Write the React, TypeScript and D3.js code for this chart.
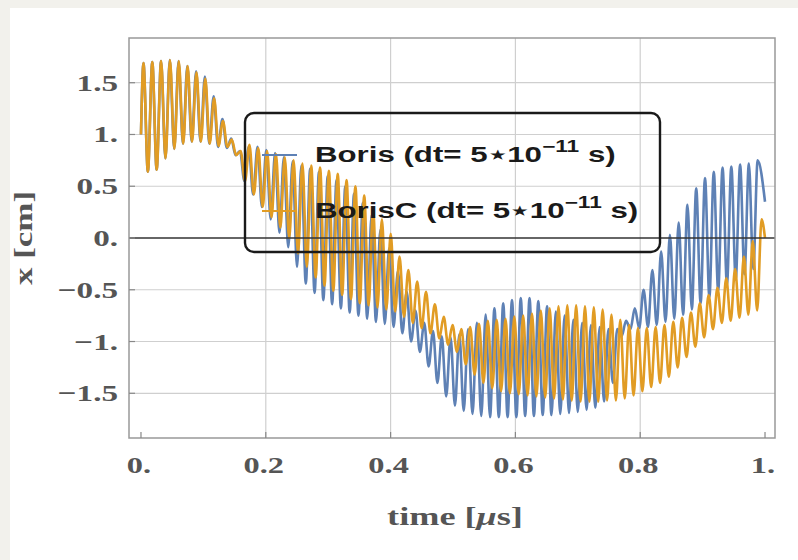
/* eslint-disable */
import React, { useRef, useEffect } from "react";
import * as d3 from "d3";

// ---- 1. Data ----//
// one value per oscillation: upper turning points (peaks) and lower ones (troughs), x in cm

const borisPeaks = [
  1.69, 1.7, 1.71, 1.72, 1.71, 1.66, 1.61, 1.56, 1.37, 1.15,
  0.96, 0.84, 0.88, 0.88, 0.85, 0.82, 0.78, 0.74, 0.7, 0.67,
  0.64, 0.6, 0.56, 0.5, 0.43, 0.34, 0.22, 0.08, -0.1, -0.32,
  -0.52, -0.7, -0.82, -0.9, -0.95, -0.96, -0.93, -0.88, -0.82, -0.74,
  -0.68, -0.63, -0.6, -0.58, -0.58, -0.61, -0.66, -0.71, -0.75, -0.79,
  -0.82, -0.84, -0.86, -0.88, -0.88, -0.8, -0.68, -0.5, -0.31, -0.13,
  0.03, 0.15, 0.32, 0.48, 0.58, 0.64, 0.68, 0.69, 0.71, 0.72,
  0.75,
];
const borisTroughs = [
  0.64, 0.66, 0.77, 0.86, 0.91, 0.93, 0.93, 0.91, 0.88, 0.87,
  0.8, 0.55, 0.42, 0.3, 0.18, 0.05, -0.09, -0.28, -0.44, -0.53,
  -0.6, -0.64, -0.68, -0.72, -0.75, -0.78, -0.81, -0.83, -0.86, -0.92,
  -1.0, -1.1, -1.24, -1.4, -1.53, -1.62, -1.67, -1.7, -1.72, -1.73,
  -1.73, -1.73, -1.73, -1.72, -1.72, -1.71, -1.71, -1.7, -1.69, -1.68,
  -1.66, -1.64, -1.58, -1.4, -0.95, -0.88, -0.87, -0.86, -0.84, -0.81,
  -0.78, -0.74, -0.69, -0.63, -0.57, -0.51, -0.45, -0.4, -0.35, -0.3,
];
const borisCPeaks = [
  1.69, 1.7, 1.71, 1.72, 1.71, 1.66, 1.6, 1.54, 1.35, 1.13,
  0.95, 0.84, 0.9, 0.87, 0.84, 0.81, 0.78, 0.75, 0.72, 0.7,
  0.68, 0.65, 0.62, 0.56, 0.5, 0.41, 0.29, 0.18, 0.04, -0.18,
  -0.31, -0.42, -0.52, -0.64, -0.76, -0.84, -0.88, -0.86, -0.83, -0.8,
  -0.79, -0.78, -0.76, -0.75, -0.73, -0.7, -0.68, -0.66, -0.65, -0.65,
  -0.66, -0.67, -0.69, -0.74, -0.79, -0.84, -0.87, -0.87, -0.86, -0.84,
  -0.81, -0.77, -0.72, -0.63, -0.55, -0.48, -0.39, -0.3, -0.18, -0.03,
  0.18,
];
const borisCTroughs = [
  0.64, 0.66, 0.77, 0.86, 0.91, 0.93, 0.93, 0.91, 0.89, 0.88,
  0.8, 0.55, 0.42, 0.3, 0.2, 0.1, 0.0, -0.15, -0.28, -0.38,
  -0.46, -0.51, -0.55, -0.59, -0.63, -0.65, -0.67, -0.69, -0.71, -0.76,
  -0.82, -0.87, -0.92, -0.97, -1.03, -1.1, -1.22, -1.32, -1.4, -1.45,
  -1.48, -1.5, -1.51, -1.52, -1.53, -1.54, -1.55, -1.56, -1.57, -1.58,
  -1.58, -1.58, -1.57, -1.57, -1.55, -1.52, -1.48, -1.44, -1.4, -1.34,
  -1.25, -1.15, -1.05, -0.96, -0.88, -0.82, -0.8, -0.77, -0.74, -0.7,
];

// time of the first peak and oscillation period (μs), values at t = 0 and t = 1
const firstPeakTime = 0.004;
const periods = [0.01406, 0.01415];
const startValues = [1.0, 1.0];
const endValues = [0.35, 0.0];

const seriesNames = ["Boris", "BorisC"];
const xTicks = [0, 0.2, 0.4, 0.6, 0.8, 1];
const xTickLabels = ["0.", "0.2", "0.4", "0.6", "0.8", "1."];
const yTicks = [-1.5, -1, -0.5, 0, 0.5, 1, 1.5];
const yTickLabels = ["\u22121.5", "\u22121.", "\u22120.5", "0.", "0.5", "1.", "1.5"];

const colors = ["#5e81b5", "#e19c24"];

const buildPoints = (peaks, troughs, period, start, end) => {
  const pts = [[0, start]];
  peaks.forEach((p, i) => {
    pts.push([firstPeakTime + i * period, p]);
    if (i < troughs.length) pts.push([firstPeakTime + (i + 0.5) * period, troughs[i]]);
  });
  pts.push([1, end]);
  return pts;
};

function App() {
  const ref = useRef<SVGSVGElement>(null);

  useEffect(() => {
    drawChart();
  }, []);

  const drawChart = () => {
    // ---- 2. Dimensions ----//
    const width = 798;
    const height = 560;
    const frame = { left: 129, top: 38, right: 775, bottom: 438 };

    const svg = d3.select(ref.current);
    svg.selectAll("*").remove();

    // page background + white card
    svg.append("rect").attr("width", width).attr("height", height).attr("fill", "#f2f1ec");
    svg.append("rect").attr("x", 10).attr("y", 8).attr("width", width - 10).attr("height", height - 8).attr("fill", "#fff");

    // ---- 3. Scales ----//
    const xScale = d3.scaleLinear().domain([-0.0192, 1.016]).range([frame.left, frame.right]);
    const yScale = d3.scaleLinear().domain([-1.932, 1.932]).range([frame.bottom, frame.top]);

    // ---- 4. Grid ----//
    const grid = svg.append("g");
    grid
      .selectAll(".vgrid")
      .data(xTicks.filter((t) => t > 0 && t < 1))
      .join("line")
      .attr("x1", (d) => xScale(d))
      .attr("x2", (d) => xScale(d))
      .attr("y1", frame.top)
      .attr("y2", frame.bottom)
      .attr("stroke", "#cfcfcf")
      .attr("stroke-width", 1.2);
    grid
      .selectAll(".hgrid")
      .data(yTicks.filter((v) => v !== 0))
      .join("line")
      .attr("x1", frame.left)
      .attr("x2", frame.right)
      .attr("y1", (d) => yScale(d))
      .attr("y2", (d) => yScale(d))
      .attr("stroke", "#cfcfcf")
      .attr("stroke-width", 1.2);

    // ---- 5. Data ----//
    svg
      .append("clipPath")
      .attr("id", "plotclip")
      .append("rect")
      .attr("x", frame.left)
      .attr("y", frame.top)
      .attr("width", frame.right - frame.left)
      .attr("height", frame.bottom - frame.top);

    const series = [
      buildPoints(borisPeaks, borisTroughs, periods[0], startValues[0], endValues[0]),
      buildPoints(borisCPeaks, borisCTroughs, periods[1], startValues[1], endValues[1]),
    ];

    const lineGen = d3
      .line()
      .x((d) => xScale(d[0]))
      .y((d) => yScale(d[1]))
      .curve(d3.curveMonotoneX);

    svg
      .append("g")
      .attr("clip-path", "url(#plotclip)")
      .selectAll("path")
      .data(series)
      .join("path")
      .attr("d", (d) => lineGen(d))
      .attr("fill", "none")
      .attr("stroke", (d, i) => colors[i])
      .attr("stroke-width", 2.6)
      .attr("stroke-linejoin", "round");

    // zero axis
    svg
      .append("line")
      .attr("x1", frame.left)
      .attr("x2", frame.right)
      .attr("y1", yScale(0))
      .attr("y2", yScale(0))
      .attr("stroke", "#333")
      .attr("stroke-width", 1.4);

    // ---- 6. Frame, ticks and labels ----//
    svg
      .append("rect")
      .attr("x", frame.left)
      .attr("y", frame.top)
      .attr("width", frame.right - frame.left)
      .attr("height", frame.bottom - frame.top)
      .attr("fill", "none")
      .attr("stroke", "#999")
      .attr("stroke-width", 1.5);

    svg
      .append("g")
      .selectAll("line")
      .data(xTicks)
      .join("line")
      .attr("x1", (d) => xScale(d))
      .attr("x2", (d) => xScale(d))
      .attr("y1", frame.bottom)
      .attr("y2", frame.bottom - 6)
      .attr("stroke", "#888")
      .attr("stroke-width", 1.2);
    svg
      .append("g")
      .selectAll("line")
      .data(yTicks)
      .join("line")
      .attr("x1", frame.left)
      .attr("x2", frame.left + 6)
      .attr("y1", (d) => yScale(d))
      .attr("y2", (d) => yScale(d))
      .attr("stroke", "#888")
      .attr("stroke-width", 1.2);

    const serif = "'Liberation Serif', 'Times New Roman', serif";
    const labelColor = "#555";

    svg
      .append("g")
      .selectAll("g")
      .data(xTicks)
      .join("g")
      .attr("transform", (d) => `translate(${xScale(d) - 2},473) scale(1.35,1)`)
      .append("text")
      .attr("text-anchor", "middle")
      .style("font-family", serif)
      .style("font-weight", "bold")
      .style("font-size", "24px")
      .attr("fill", labelColor)
      .text((d, i) => xTickLabels[i]);

    svg
      .append("g")
      .selectAll("g")
      .data(yTicks)
      .join("g")
      .attr("transform", (d) => `translate(118,${yScale(d) + 8}) scale(1.38,1)`)
      .append("text")
      .attr("text-anchor", "end")
      .style("font-family", serif)
      .style("font-weight", "bold")
      .style("font-size", "24px")
      .attr("fill", labelColor)
      .text((d, i) => yTickLabels[i]);

    const xTitle = svg
      .append("g")
      .attr("transform", "translate(455,525) scale(1.45,1)")
      .append("text")
      .attr("text-anchor", "middle")
      .style("font-family", serif)
      .style("font-weight", "bold")
      .style("font-size", "25px")
      .attr("fill", labelColor);
    xTitle.append("tspan").text("time [");
    xTitle.append("tspan").style("font-style", "italic").text("\u03bc");
    xTitle.append("tspan").text("s]");

    svg
      .append("g")
      .attr("transform", "translate(32,238) rotate(-90) scale(1.4,1)")
      .append("text")
      .attr("text-anchor", "middle")
      .style("font-family", serif)
      .style("font-weight", "bold")
      .style("font-size", "25px")
      .attr("fill", labelColor)
      .text("x [cm]");

    // ---- 7. Legend ----//
    const legend = svg.append("g");
    legend
      .append("rect")
      .attr("x", 245)
      .attr("y", 113)
      .attr("width", 415)
      .attr("height", 139)
      .attr("rx", 9)
      .attr("fill", "none")
      .attr("stroke", "#1a1a1a")
      .attr("stroke-width", 2.4);

    seriesNames.forEach((name, i) => {
      const baseline = 162 + i * 56;
      legend
        .append("line")
        .attr("x1", 262)
        .attr("x2", 297)
        .attr("y1", baseline - 7)
        .attr("y2", baseline - 7)
        .attr("stroke", colors[i])
        .attr("stroke-width", 2);

      const t = legend
        .append("g")
        .attr("transform", `translate(315,${baseline}) scale(1.42,1)`)
        .append("text")
        .style("font-family", "'Liberation Sans', Arial, sans-serif")
        .style("font-weight", "bold")
        .style("font-size", "22px")
        .attr("fill", "#1a1a1a");
      t.append("tspan").text(`${name} (dt= 5\u22c610`);
      t.append("tspan").attr("dy", -10).style("font-size", "16px").text("\u221211");
      t.append("tspan").attr("dy", 10).text(" s)");
    });
  };

  return (
    <svg
      ref={ref}
      width={798}
      height={560}
      style={{ position: "absolute", left: 0, top: 0 }}
    />
  );
}

export default App;
